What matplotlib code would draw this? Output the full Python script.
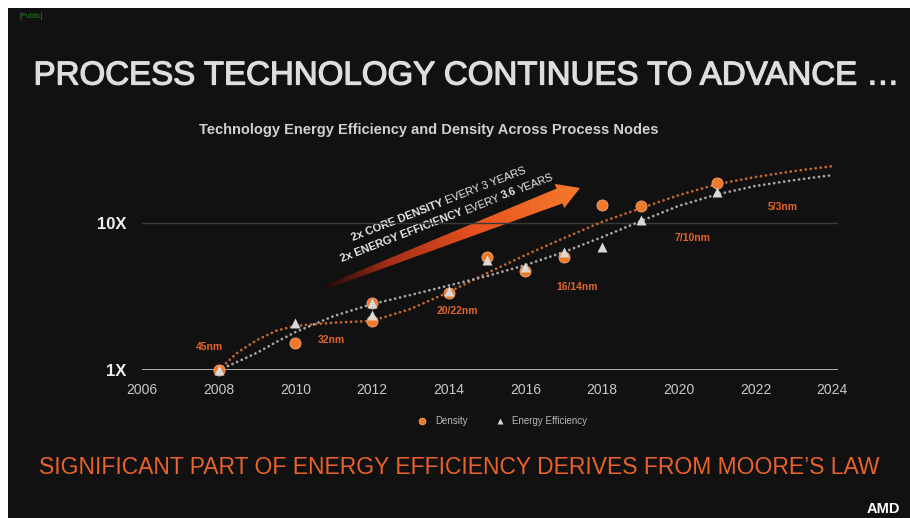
import numpy as np
import matplotlib
matplotlib.use("Agg")
import matplotlib.pyplot as plt
import matplotlib.patheffects as pe
from matplotlib.path import Path
from matplotlib.patches import PathPatch, Rectangle
from matplotlib.colors import LinearSegmentedColormap

# ---- data ----
density_years = [2008, 2010, 2012, 2012, 2014, 2015, 2016, 2017, 2018, 2019, 2021]
density = [1.0, 1.53, 2.86, 2.15, 3.36, 5.9, 4.74, 5.87, 13.3, 13.1, 18.7]

energy_years = [2008, 2010, 2012, 2012, 2014, 2015, 2016, 2017, 2018, 2019, 2021]
energy = [1.0, 2.1, 2.86, 2.37, 3.45, 5.6, 5.0, 6.38, 6.83, 10.5, 16.3]

trend_years = [2008, 2008.5, 2009, 2009.5, 2010, 2011, 2012, 2013, 2014, 2015, 2016,
               2017, 2018, 2019, 2020, 2021, 2022, 2023, 2024]
density_trend = [1.0, 1.32, 1.60, 1.85, 2.00, 2.10, 2.16, 2.60, 3.39, 4.57, 6.06,
                 7.9, 10.2, 12.6, 15.5, 18.4, 20.6, 22.6, 24.4]
energy_trend = [1.0, 1.14, 1.31, 1.55, 1.81, 2.33, 2.81, 3.24, 3.76, 4.36, 5.18,
                6.35, 8.03, 10.3, 13.1, 15.7, 17.9, 19.6, 21.2]

node_labels = ["45nm", "32nm", "20/22nm", "16/14nm", "7/10nm", "5/3nm"]
year_ticks = [2006, 2008, 2010, 2012, 2014, 2016, 2018, 2020, 2022, 2024]
y_ticks = [1, 10]
y_ticklabels = ["1X", "10X"]

# label placement (year, value) for the node names
node_pos = [(2007.77, 1.43), (2010.93, 1.60), (2014.22, 2.52),
            (2017.35, 3.67), (2020.35, 7.9), (2022.7, 12.9)]

ORANGE = "#f07a2c"
ORANGE_TXT = "#e0642a"
BG = "#111111"
FONT = "Liberation Sans"
W, H = 910, 518

fig = plt.figure(figsize=(W / 100, H / 100), dpi=100)
fig.patch.set_facecolor("white")
renderer = fig.canvas.get_renderer()

# overlay in pixel coordinates for the slide decoration
bg = fig.add_axes([0, 0, 1, 1], zorder=-1)
bg.set_xlim(0, W)
bg.set_ylim(H, 0)
bg.axis("off")
bg.add_patch(Rectangle((8, 8), W - 8, H - 8, facecolor=BG, edgecolor="none",
                       zorder=0))

bg.text(20, 17, "[Public]", color="#2f7a2f", fontsize=5, va="center", family=FONT)
bg.text(465, 76, "PROCESS TECHNOLOGY CONTINUES TO ADVANCE \u2026", color="#dedede",
        fontsize=23.8, ha="center", va="center", family=FONT,
        path_effects=[pe.withStroke(linewidth=0.9, foreground="#dedede")])
bg.text(429, 130, "Technology Energy Efficiency and Density Across Process Nodes",
        color="#d0d0d0", fontsize=10.5, fontweight="bold", ha="center", va="center",
        family=FONT)
bg.text(459, 467, "SIGNIFICANT PART OF ENERGY EFFICIENCY DERIVES FROM MOORE\u2019S LAW",
        color="#e8622a", fontsize=16.5, ha="center", va="center", family=FONT)
bg.text(867, 509, "AMD", color="white", fontsize=10.5, fontweight="bold",
        ha="left", va="center", family=FONT)

# gradient arrow
p0 = np.array([326.0, 287.0])
p1 = np.array([580.0, 188.0])
d = (p1 - p0) / np.linalg.norm(p1 - p0)
n = np.array([d[1], -d[0]])
L = np.linalg.norm(p1 - p0)
head_len, head_w = 22, 13
body_end = p0 + d * (L - head_len)
pts = [p0 + n * 2.0, body_end + n * 8.0, body_end + n * head_w, p1,
       body_end - n * head_w, body_end - n * 8.0, p0 - n * 2.0, p0 + n * 2.0]
arrow_path = Path(pts, [Path.MOVETO] + [Path.LINETO] * 6 + [Path.CLOSEPOLY])
patch = PathPatch(arrow_path, facecolor="none", edgecolor="none")
bg.add_patch(patch)
gx, gy = np.meshgrid(np.arange(W) + 0.5, np.arange(H) + 0.5)
t = np.clip(((gx - p0[0]) * d[0] + (gy - p0[1]) * d[1]) / L, 0, 1)
cmap = LinearSegmentedColormap.from_list(
    "arr", [(0, "#1e0a08"), (0.25, "#a82e18"), (0.6, "#e8531f"), (1, "#f47a2c")])
img = bg.imshow(t, cmap=cmap, extent=(0, W, H, 0), interpolation="bilinear",
                zorder=2, aspect="auto")
img.set_clip_path(patch)
bg.set_xlim(0, W)
bg.set_ylim(H, 0)

ang = np.degrees(np.arctan2(-(p1[1] - p0[1]), p1[0] - p0[0]))


def text_width(s, **kw):
    tmp = bg.text(0, 0, s, **kw)
    w = tmp.get_window_extent(renderer).width
    tmp.remove()
    return w


def mixed_line(start, parts, size):
    # draw bold / regular runs one after another along the arrow direction
    pos = np.array(start, dtype=float)
    for s, weight in parts:
        kw = dict(fontsize=size, fontweight=weight, family=FONT)
        bg.text(pos[0], pos[1], s, rotation=ang, rotation_mode="anchor",
                color="#e8e8e8", ha="left", va="baseline", **kw)
        pos = pos + d * text_width(s + " ", **kw)


mixed_line((353, 241), [("2x CORE DENSITY", "bold"), ("EVERY 3 YEARS", "normal")], 7.9)
mixed_line((342, 262), [("2x ENERGY EFFICIENCY", "bold"), ("EVERY", "normal"),
                        ("3.6", "bold"), ("YEARS", "normal")], 7.9)

# ---- main chart ----
left, right, bottom_px, top_px = 142, 838, 370, 153
ax = fig.add_axes([left / W, (H - bottom_px) / H, (right - left) / W,
                   (bottom_px - top_px) / H], zorder=1)
ax.set_facecolor("none")
ax.set_yscale("log")
ax.set_xlim(2006, 2024.15)
ax.set_ylim(1, 30)

ax.axhline(10, color="#3a3a3a", lw=1, zorder=1)
ax.axhline(1, color="#bdbdbd", lw=2, zorder=1)

ax.plot(trend_years, density_trend, color="#c8682e", lw=2,
        linestyle=(0, (0.01, 1.8)), dash_capstyle="round", zorder=2)
ax.plot(trend_years, energy_trend, color="#a8a8a8", lw=2,
        linestyle=(0, (0.01, 1.8)), dash_capstyle="round", zorder=2)

ax.plot(density_years, density, "o", color=ORANGE, ms=8, mec="#f3a070", mew=0.6,
        clip_on=False, zorder=3, label="Density")
ax.plot(energy_years, energy, "^", color="#d8d8d8", ms=6.5, mec="none",
        clip_on=False, zorder=4, label="Energy Efficiency")

for lab, (xx, yy) in zip(node_labels, node_pos):
    ax.text(xx, yy, lab, color=ORANGE_TXT, fontsize=7.5, fontweight="bold",
            ha="center", va="center", family=FONT)

ax.set_xticks(year_ticks)
ax.set_xticklabels([str(y) for y in year_ticks], color="#c8c8c8", fontsize=10,
                   family=FONT)
ax.set_yticks(y_ticks)
ax.set_yticklabels(y_ticklabels, color="#f0f0f0", fontsize=12, fontweight="bold",
                   family=FONT)
ax.minorticks_off()
ax.tick_params(axis="x", length=0, pad=9)
ax.tick_params(axis="y", length=0, pad=11)
for s in ax.spines.values():
    s.set_visible(False)

leg = ax.legend(loc="center", bbox_to_anchor=((500 - left) / (right - left), -0.235),
                ncol=2, frameon=False, handletextpad=0.3,
                columnspacing=2.3, markerscale=0.6, prop={"family": FONT, "size": 7})
for txt in leg.get_texts():
    txt.set_color("#b8b8b8")

fig.savefig("out.png", dpi=100, facecolor=fig.get_facecolor())
